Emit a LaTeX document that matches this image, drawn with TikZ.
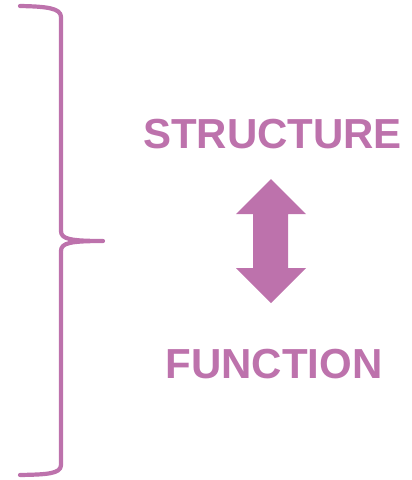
\documentclass[tikz,border=0pt]{standalone}
\usepackage{fontspec}
\setmainfont{Liberation Sans}
\definecolor{orchid}{RGB}{189,114,172}
\begin{document}
\begin{tikzpicture}[x=1pt,y=-1pt,
  lbl/.style={anchor=base,inner sep=0pt,text=orchid,font=\fontsize{42}{42}\selectfont\bfseries},
  bracestyle/.style={draw=orchid,line width=4.2pt,line cap=round,line join=round},
  arrowshape/.style={fill=orchid,draw=none}]
\useasboundingbox (0,0) rectangle (412,480);
% brace
\draw[bracestyle] (20,6) .. controls (46,6.5) and (61,8) .. (61,17)
  -- (61,231) .. controls (61,239) and (70,241) .. (103,241)
  .. controls (70,241) and (61,243) .. (61,251)
  -- (61,465) .. controls (61,474) and (46,474.5) .. (20,475);
% labels
\node[lbl] (structure) at (272.5,148) {STRUCTURE};
\node[lbl] (function) at (274,378) {FUNCTION};
% double arrow
\fill[arrowshape] (271,179) -- (306,214) -- (288,214) -- (288,268) -- (306,268)
  -- (271,303) -- (236,268) -- (253,268) -- (253,214) -- (236,214) -- cycle;
\end{tikzpicture}
\end{document}
